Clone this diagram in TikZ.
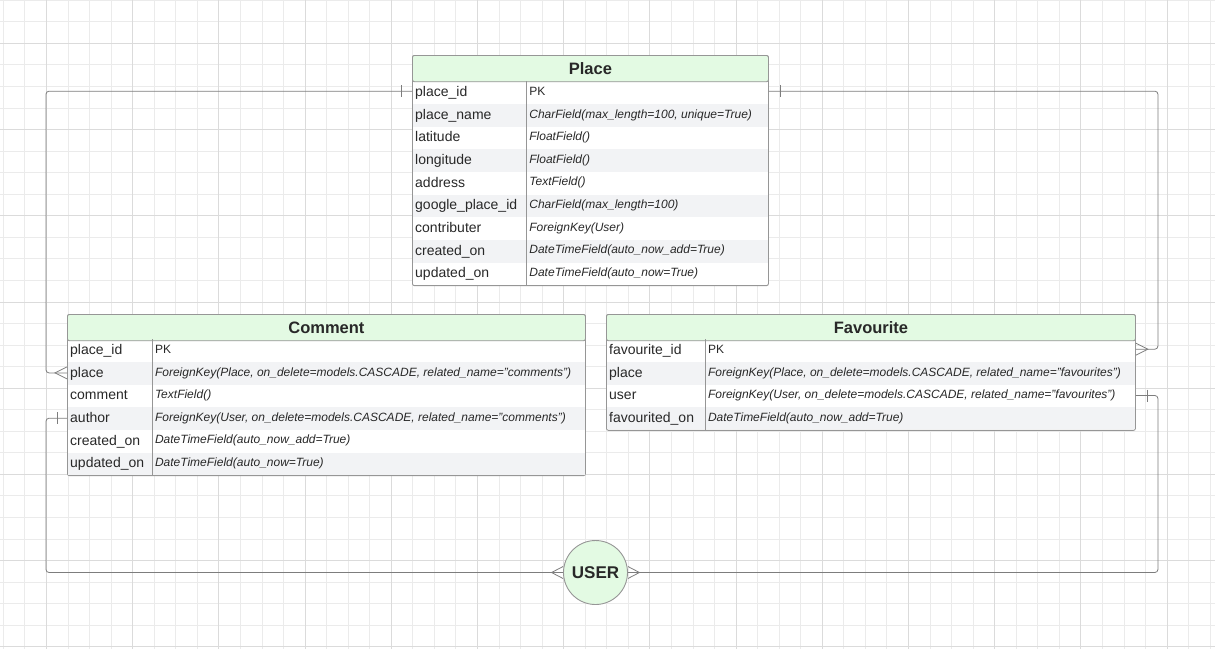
\documentclass[tikz,border=0pt]{standalone}
\usepackage{fontspec}
\setmainfont{Liberation Sans}

\definecolor{hdrgreen}{RGB}{227,250,227}
\definecolor{rowgray}{RGB}{242,243,245}
\definecolor{edgegray}{RGB}{150,150,150}
\definecolor{linkgray}{RGB}{125,125,125}
\definecolor{txt}{RGB}{40,40,40}

\tikzset{
  tbl/.style={anchor=north west, draw=edgegray, fill=white, line width=0.9pt, rounded corners=2pt, inner sep=0pt},
  hdr/.style={anchor=north west, draw=edgegray, fill=hdrgreen, line width=0.9pt, rounded corners=2pt, inner sep=0pt,
    minimum height=26.3, text=txt, font=\fontsize{16.5}{18}\selectfont\bfseries},
  fld/.style={anchor=base west, yshift=-4pt, inner sep=0pt, text=txt, font=\fontsize{14}{16}\selectfont},
  typ/.style={anchor=base west, yshift=-2.7pt, inner sep=0pt, text=txt, font=\fontsize{12}{14}\selectfont\itshape},
  pk/.style={anchor=base west, yshift=-2.7pt, inner sep=0pt, text=txt, font=\fontsize{12}{14}\selectfont},
  divider/.style={draw=edgegray, line width=0.9pt},
  link/.style={draw=linkgray, line width=0.8pt, rounded corners=3pt},
  endmark/.style={draw=linkgray, line width=0.8pt}
}

\begin{document}
\begin{tikzpicture}[x=1pt,y=-1pt]
  \useasboundingbox (0,0) rectangle (1215,649);
  % grid
  \foreach \k in {0,...,56} \draw[black!8, line width=0.8pt] ({3.3+21.55*\k},0) -- ({3.3+21.55*\k},649);
  \foreach \k in {0,...,30} \draw[black!8, line width=0.8pt] (0,{0.2+21.55*\k}) -- (1215,{0.2+21.55*\k});
  \foreach \k in {2,6,...,54} \draw[black!14, line width=0.8pt] ({3.3+21.55*\k},0) -- ({3.3+21.55*\k},649);
  \foreach \k in {2,6,...,30} \draw[black!14, line width=0.8pt] (0,{0.2+21.55*\k}) -- (1215,{0.2+21.55*\k});

  % Place
  \node[tbl, minimum width=356, minimum height=230.2] (place) at (412,55) {};
  \fill[rowgray] (412.5,103.95) rectangle (767.5,126.6);
  \fill[rowgray] (412.5,149.25) rectangle (767.5,171.9);
  \fill[rowgray] (412.5,194.55) rectangle (767.5,217.2);
  \fill[rowgray] (412.5,239.85) rectangle (767.5,262.5);
  \node[hdr, minimum width=356] (placeh) at (412,55) {Place};
  \node[fld] (pl-id) at (415,92.6) {place\_id};
  \node[fld] (pl-name) at (415,115.3) {place\_name};
  \node[fld] (pl-lat) at (415,137.9) {latitude};
  \node[fld] (pl-lon) at (415,160.6) {longitude};
  \node[fld] (pl-addr) at (415,183.2) {address};
  \node[fld] (pl-gid) at (415,205.9) {google\_place\_id};
  \node[fld] (pl-contr) at (415,228.5) {contributer};
  \node[fld] (pl-cre) at (415,251.2) {created\_on};
  \node[fld] (pl-upd) at (415,273.8) {updated\_on};
  \node[pk] (pl-idt) at (529.2,92.6) {PK};
  \node[typ] (pl-namet) at (529.2,115.3) {CharField(max\_length=100, unique=True)};
  \node[typ] (pl-latt) at (529.2,137.9) {FloatField()};
  \node[typ] (pl-lont) at (529.2,160.6) {FloatField()};
  \node[typ] (pl-addrt) at (529.2,183.2) {TextField()};
  \node[typ] (pl-gidt) at (529.2,205.9) {CharField(max\_length=100)};
  \node[typ] (pl-contrt) at (529.2,228.5) {ForeignKey(User)};
  \node[typ] (pl-cret) at (529.2,251.2) {DateTimeField(auto\_now\_add=True)};
  \node[typ] (pl-updt) at (529.2,273.8) {DateTimeField(auto\_now=True)};
  \draw[divider] (526.7,81.3) -- (526.7,285.2);

  % Comment
  \node[tbl, minimum width=518, minimum height=161.2] (comment) at (67,314) {};
  \fill[rowgray] (67.5,361.95) rectangle (584.5,384.6);
  \fill[rowgray] (67.5,407.25) rectangle (584.5,429.9);
  \fill[rowgray] (67.5,452.55) rectangle (584.5,474.6);
  \node[hdr, minimum width=518] (commenth) at (67,314) {Comment};
  \node[fld] (cm-id) at (70,350.6) {place\_id};
  \node[fld] (cm-place) at (70,373.3) {place};
  \node[fld] (cm-text) at (70,395.9) {comment};
  \node[fld] (cm-auth) at (70,418.6) {author};
  \node[fld] (cm-cre) at (70,441.2) {created\_on};
  \node[fld] (cm-upd) at (70,463.9) {updated\_on};
  \node[pk] (cm-idt) at (154.8,350.6) {PK};
  \node[typ] (cm-placet) at (154.8,373.3) {ForeignKey(Place, on\_delete=models.CASCADE, related\_name="comments")};
  \node[typ] (cm-textt) at (154.8,395.9) {TextField()};
  \node[typ] (cm-autht) at (154.8,418.6) {ForeignKey(User, on\_delete=models.CASCADE, related\_name="comments")};
  \node[typ] (cm-cret) at (154.8,441.2) {DateTimeField(auto\_now\_add=True)};
  \node[typ] (cm-updt) at (154.8,463.9) {DateTimeField(auto\_now=True)};
  \draw[divider] (152.3,339.3) -- (152.3,475.2);

  % Favourite
  \node[tbl, minimum width=529, minimum height=115.9] (favourite) at (606,314) {};
  \fill[rowgray] (606.5,361.95) rectangle (1134.5,384.6);
  \fill[rowgray] (606.5,407.25) rectangle (1134.5,429.4);
  \node[hdr, minimum width=529] (favouriteh) at (606,314) {Favourite};
  \node[fld] (fv-id) at (609,350.6) {favourite\_id};
  \node[fld] (fv-place) at (609,373.3) {place};
  \node[fld] (fv-user) at (609,395.9) {user};
  \node[fld] (fv-on) at (609,418.6) {favourited\_on};
  \node[pk] (fv-idt) at (707.8,350.6) {PK};
  \node[typ] (fv-placet) at (707.8,373.3) {ForeignKey(Place, on\_delete=models.CASCADE, related\_name="favourites")};
  \node[typ] (fv-usert) at (707.8,395.9) {ForeignKey(User, on\_delete=models.CASCADE, related\_name="favourites")};
  \node[typ] (fv-ont) at (707.8,418.6) {DateTimeField(auto\_now\_add=True)};
  \draw[divider] (705.3,339.3) -- (705.3,429.9);

  % User
  \node[circle, draw=edgegray, fill=hdrgreen, line width=0.9pt, minimum size=64, inner sep=0pt,
    text=txt, font=\fontsize{17}{19}\selectfont\bfseries] (user) at (595.5,572.5) {USER};

  % links
  \draw[link] (place.west |- pl-idt) -| ([xshift=-21pt]comment.west |- cm-placet) -- (comment.west |- cm-placet);
  \draw[endmark] ([xshift=-11pt]place.west |- pl-idt) ++(0,-6) -- ++(0,12);
  \draw[endmark] ([yshift=6pt]comment.west |- cm-placet) -- ([xshift=-12pt]comment.west |- cm-placet) -- ([yshift=-6pt]comment.west |- cm-placet);

  \draw[link] (place.east |- pl-idt) -| ([xshift=22pt]favourite.east |- fv-idt) -- (favourite.east |- fv-idt);
  \draw[endmark] ([xshift=11pt]place.east |- pl-idt) ++(0,-6) -- ++(0,12);
  \draw[endmark] ([yshift=6pt]favourite.east |- fv-idt) -- ([xshift=12pt]favourite.east |- fv-idt) -- ([yshift=-6pt]favourite.east |- fv-idt);

  \draw[link] (user.west) -| ([xshift=-21pt]comment.west |- cm-autht) -- (comment.west |- cm-autht);
  \draw[endmark] ([xshift=-10pt]comment.west |- cm-autht) ++(0,-6) -- ++(0,12);
  \draw[endmark] ([yshift=6pt]user.west) -- ([xshift=-11.5pt]user.west) -- ([yshift=-6pt]user.west);

  \draw[link] (user.east) -| ([xshift=22pt]favourite.east |- fv-usert) -- (favourite.east |- fv-usert);
  \draw[endmark] ([xshift=11pt]favourite.east |- fv-usert) ++(0,-6) -- ++(0,12);
  \draw[endmark] ([yshift=6pt]user.east) -- ([xshift=11.5pt]user.east) -- ([yshift=-6pt]user.east);
\end{tikzpicture}
\end{document}
